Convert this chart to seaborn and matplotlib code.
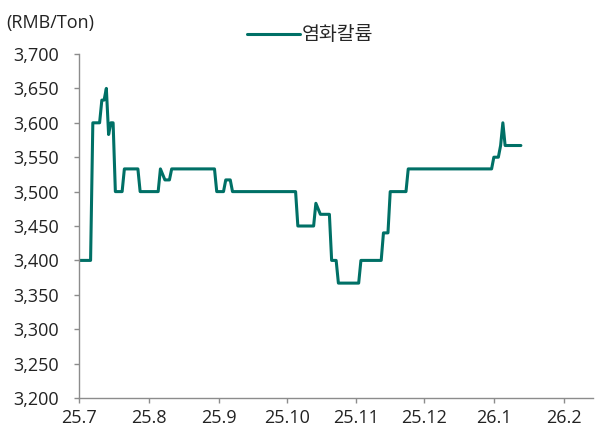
import pandas as pd
import matplotlib.pyplot as plt
import seaborn as sns

# 데이터
fechas = ['2025-07-01', '2025-07-06', '2025-07-07', '2025-07-10', '2025-07-11',
          '2025-07-12', '2025-07-13', '2025-07-14', '2025-07-15', '2025-07-16',
          '2025-07-17', '2025-07-20', '2025-07-21', '2025-07-27', '2025-07-28',
          '2025-08-05', '2025-08-06', '2025-08-08', '2025-08-10', '2025-08-11',
          '2025-08-30', '2025-08-31', '2025-09-03', '2025-09-04', '2025-09-06',
          '2025-09-07', '2025-10-05', '2025-10-06', '2025-10-13', '2025-10-14',
          '2025-10-16', '2025-10-20', '2025-10-21', '2025-10-23', '2025-10-24',
          '2025-11-02', '2025-11-03', '2025-11-12', '2025-11-13', '2025-11-15',
          '2025-11-16', '2025-11-23', '2025-11-24', '2025-12-31', '2026-01-01',
          '2026-01-03', '2026-01-04', '2026-01-05', '2026-01-06', '2026-01-13']
precios = [3400, 3400, 3600, 3600, 3633,
           3633, 3650, 3583, 3600, 3600,
           3500, 3500, 3533, 3533, 3500,
           3500, 3533, 3517, 3517, 3533,
           3533, 3500, 3500, 3517, 3517,
           3500, 3500, 3450, 3450, 3483,
           3467, 3467, 3400, 3400, 3367,
           3367, 3400, 3400, 3440, 3440,
           3500, 3500, 3533, 3533, 3550,
           3550, 3567, 3600, 3567, 3567]

tick_fechas = ['2025-07-01', '2025-08-01', '2025-09-01', '2025-10-01',
               '2025-11-01', '2025-12-01', '2026-01-01', '2026-02-01']
tick_labels = ['25.7', '25.8', '25.9', '25.10', '25.11', '25.12', '26.1', '26.2']
serie = '염화칼륨'

df = pd.DataFrame({'fecha': pd.to_datetime(fechas), 'precio': precios})

sns.set_style('white')
plt.rcParams['font.family'] = ['Open Sans', 'Noto Sans CJK KR', 'DejaVu Sans']

fig = plt.figure(figsize=(5.95, 4.3), dpi=100)
ax = fig.add_axes([0.1333, 0.0744, 0.8633, 0.80])

sns.lineplot(data=df, x='fecha', y='precio', color='#007066', linewidth=2.2,
             label=serie, ax=ax)

ax.set_xlim(pd.Timestamp('2025-07-01'), pd.Timestamp('2026-02-14'))
ax.set_ylim(3200, 3700)
ax.set_yticks(range(3200, 3701, 50))
ax.yaxis.set_major_formatter(plt.FuncFormatter(lambda v, p: f'{int(v):,}'))
ax.set_xticks(pd.to_datetime(tick_fechas))
ax.set_xticklabels(tick_labels)
ax.set_xlabel('')
ax.set_ylabel('')

for s in ['top', 'right']:
    ax.spines[s].set_visible(False)
for s in ['left', 'bottom']:
    ax.spines[s].set_color('#8c8c8c')
    ax.spines[s].set_linewidth(1.0)

ax.tick_params(axis='y', direction='out', length=3.8, width=1, color='#8c8c8c',
               labelsize=13, labelcolor='#222222', pad=11)
ax.tick_params(axis='x', direction='out', length=3.6, width=1, color='#8c8c8c',
               labelsize=13, labelcolor='#222222', pad=4)
ax.tick_params(left=True, bottom=True)

fig.text(0.011, 0.947, '(RMB/Ton)', fontsize=13, color='#222222', va='center')

leg = ax.legend(loc='center left', bbox_to_anchor=(247 / 595, 1 - 35 / 430),
                bbox_transform=fig.transFigure, frameon=False,
                prop={'family': 'Noto Sans CJK KR', 'size': 14},
                handlelength=2.75, handletextpad=0.05, borderpad=0, borderaxespad=0)

fig.savefig('out.png', dpi=100)
